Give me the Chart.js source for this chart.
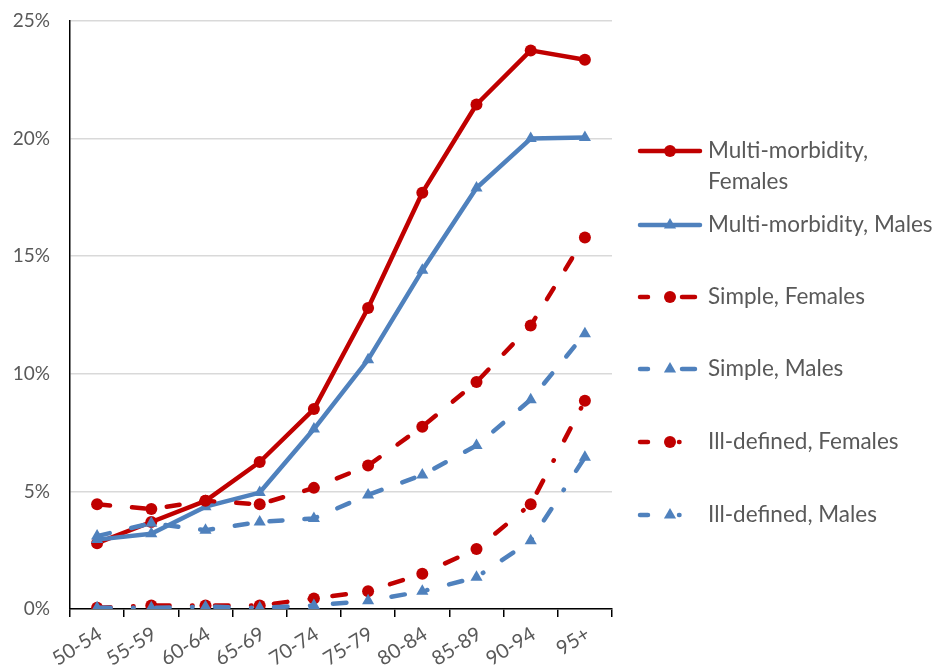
<!DOCTYPE html>
<html>
<head>
<meta charset="utf-8">
<script src="https://cdn.jsdelivr.net/npm/chart.js@4.4.0/dist/chart.umd.min.js"></script>
<style>
html, body { margin: 0; padding: 0; background: #fff; }
#wrap { width: 936px; height: 666px; }
</style>
</head>
<body>
<div id="wrap"><canvas id="lineChart"></canvas></div>
<script>
const ageGroups = ['50-54', '55-59', '60-64', '65-69', '70-74', '75-79', '80-84', '85-89', '90-94', '95+'];
const yTicks = [0, 5, 10, 15, 20, 25];

const multiFemales = [2.8, 3.7, 4.6, 6.25, 8.5, 12.8, 17.7, 21.45, 23.75, 23.35];
const multiMales = [2.95, 3.2, 4.35, 4.95, 7.65, 10.6, 14.4, 17.9, 20.0, 20.05];
const simpleFemales = [4.45, 4.25, 4.6, 4.45, 5.15, 6.1, 7.75, 9.65, 12.05, 15.8];
const simpleMales = [3.1, 3.65, 3.35, 3.7, 3.85, 4.85, 5.7, 6.95, 8.9, 11.7];
const illFemales = [0.05, 0.15, 0.15, 0.15, 0.45, 0.75, 1.5, 2.55, 4.45, 8.85];
const illMales = [0.05, 0.05, 0.1, 0.05, 0.15, 0.35, 0.75, 1.35, 2.9, 6.45];

const seriesNames = [
    ['Multi-morbidity,', 'Females'],
    ['Multi-morbidity, Males'],
    ['Simple, Females'],
    ['Simple, Males'],
    ['Ill-defined, Females'],
    ['Ill-defined, Males']
];

const red = '#C00000';
const blue = '#4F81BD';
const textColor = '#595959';
const fontFamily = 'Lato, "Open Sans", sans-serif';

const solid = [];
const dash = [13, 22];
const dashDot = [13.5, 22.5, 0.5, 22.5];

// legend swatch patterns (line drawn from x=640 to x=700)
const legendDash = {
    solid: [],
    dash: [8, 34, 13, 100],
    dashDot: [8, 31, 0.5, 100]
};

function series(i, data, color, style, marker) {
    const patterns = { solid: solid, dash: dash, dashDot: dashDot };
    return {
        label: seriesNames[i].join(' '),
        data: data,
        borderColor: color,
        backgroundColor: color,
        borderWidth: 4.5,
        borderDash: patterns[style],
        legendStyle: style,
        borderCapStyle: 'round',
        borderJoinStyle: 'round',
        pointStyle: marker,
        pointRadius: marker === 'triangle' ? 7 : 6,
        pointBorderWidth: 0,
        tension: 0,
        order: 6 - i
    };
}

const datasets = [
    series(0, multiFemales, red, 'solid', 'circle'),
    series(1, multiMales, blue, 'solid', 'triangle'),
    series(2, simpleFemales, red, 'dash', 'circle'),
    series(3, simpleMales, blue, 'dash', 'triangle'),
    series(4, illFemales, red, 'dashDot', 'circle'),
    series(5, illMales, blue, 'dashDot', 'triangle')
];

// legend rows: line + marker + text, drawn to the right of the plot
const legendRows = [151, 225, 297, 369, 442, 515];

const sideLegend = {
    id: 'sideLegend',
    afterDraw(chart) {
        const ctx = chart.ctx;
        ctx.save();
        chart.data.datasets.forEach((ds, i) => {
            const y = legendRows[i];
            ctx.strokeStyle = ds.borderColor;
            ctx.lineWidth = ds.borderWidth;
            ctx.lineCap = 'round';
            ctx.setLineDash(legendDash[ds.legendStyle]);
            ctx.beginPath();
            ctx.moveTo(640, y);
            ctx.lineTo(700, y);
            ctx.stroke();
            ctx.setLineDash([]);

            ctx.fillStyle = ds.backgroundColor;
            ctx.beginPath();
            const r = ds.pointRadius;
            if (ds.pointStyle === 'circle') {
                ctx.arc(670, y, r, 0, Math.PI * 2);
            } else {
                ctx.moveTo(670, y - r);
                ctx.lineTo(670 + r * 0.87, y + r * 0.5);
                ctx.lineTo(670 - r * 0.87, y + r * 0.5);
                ctx.closePath();
            }
            ctx.fill();

            ctx.fillStyle = textColor;
            ctx.font = '22.5px ' + fontFamily;
            ctx.textBaseline = 'middle';
            ctx.textAlign = 'left';
            seriesNames[i].forEach((line, k) => {
                ctx.fillText(line, 708, y + k * 31);
            });
        });
        ctx.restore();
    }
};

const ctx = document.getElementById('lineChart').getContext('2d');
new Chart(ctx, {
    type: 'line',
    data: {
        labels: ageGroups,
        datasets: datasets
    },
    options: {
        responsive: true,
        maintainAspectRatio: false,
        animation: false,
        layout: {
            padding: { top: 21, right: 324, left: 0, bottom: 0 }
        },
        plugins: {
            legend: { display: false },
            tooltip: { enabled: false }
        },
        scales: {
            x: {
                offset: true,
                grid: {
                    offset: true,
                    drawOnChartArea: false,
                    drawTicks: true,
                    tickLength: 8,
                    color: '#000',
                    lineWidth: 1.5
                },
                border: { color: '#000', width: 1.5 },
                ticks: {
                    color: textColor,
                    font: { family: fontFamily, size: 20 },
                    minRotation: 32,
                    maxRotation: 32,
                    padding: 5,
                    labelOffset: 3
                },
                afterFit(scale) { scale.height = 57; }
            },
            y: {
                min: 0,
                max: 25,
                afterBuildTicks(scale) {
                    scale.ticks = yTicks.map(v => ({ value: v }));
                },
                grid: {
                    drawTicks: false,
                    color: '#D9D9D9',
                    lineWidth: 1.5
                },
                border: { color: '#000', width: 1.5 },
                ticks: {
                    color: textColor,
                    font: { family: fontFamily, size: 19 },
                    padding: 20,
                    callback: v => v + '%'
                },
                afterFit(scale) {
                    scale.width = 70;
                    scale.paddingTop = 0;
                    scale.paddingBottom = 0;
                }
            }
        }
    },
    plugins: [sideLegend]
});
</script>
</body>
</html>
